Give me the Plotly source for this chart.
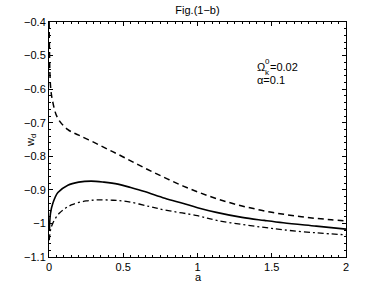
import plotly.graph_objects as go

# ---- data ----
a_dashed = [0.0008, 0.003, 0.006, 0.012, 0.024, 0.057, 0.125, 0.2, 0.3, 0.4, 0.5, 0.6, 0.7,
            0.8, 0.9, 1.0, 1.1, 1.2, 1.3, 1.4, 1.5, 1.6, 1.7, 1.8, 1.9, 2.0]
w_dashed = [-0.40, -0.48, -0.55, -0.60, -0.635, -0.685, -0.72, -0.737, -0.758, -0.780, -0.802,
            -0.825, -0.847, -0.868, -0.888, -0.906, -0.922, -0.936, -0.948, -0.958, -0.967,
            -0.974, -0.980, -0.985, -0.989, -0.993]

a_solid = [0.003, 0.01, 0.026, 0.06, 0.127, 0.2, 0.284, 0.37, 0.464, 0.55, 0.644, 0.78, 0.9,
           1.0, 1.127, 1.3, 1.45, 1.577, 1.8, 2.0]
w_solid = [-1.02, -0.97, -0.94, -0.908, -0.886, -0.877, -0.874, -0.877, -0.883, -0.893, -0.905,
           -0.925, -0.94, -0.953, -0.967, -0.982, -0.991, -0.998, -1.008, -1.017]

a_dashdot = [0.002, 0.01, 0.026, 0.071, 0.15, 0.25, 0.33, 0.43, 0.53, 0.68, 0.78, 1.0, 1.13,
             1.3, 1.45, 1.577, 1.8, 2.0]
w_dashdot = [-1.05, -1.02, -0.999, -0.969, -0.945, -0.933, -0.930, -0.931, -0.935, -0.95, -0.96,
             -0.977, -0.991, -1.003, -1.012, -1.019, -1.028, -1.034]

x_ticks = [0, 0.5, 1, 1.5, 2]
x_tick_labels = ["0", "0.5", "1", "1.5", "2"]
y_ticks = [-0.4, -0.5, -0.6, -0.7, -0.8, -0.9, -1.0, -1.1]
y_tick_labels = ["\u22120.4", "\u22120.5", "\u22120.6", "\u22120.7", "\u22120.8", "\u22120.9", "\u22121", "\u22121.1"]

FONT = "Liberation Sans, Arial, Helvetica, sans-serif"
L, R, T, B = 49, 346, 22, 257
W, H = 382, 287

def px_x(px):
    return (px - L) / (R - L)

def px_y(py):
    return 1 - (py - T) / (B - T)

fig = go.Figure()
fig.add_trace(go.Scatter(x=a_dashed, y=w_dashed, mode="lines", line_shape="spline",
                         line=dict(color="black", width=1.5, dash="6px,4px")))
fig.add_trace(go.Scatter(x=a_solid, y=w_solid, mode="lines", line_shape="spline",
                         line=dict(color="black", width=1.6)))
fig.add_trace(go.Scatter(x=a_dashdot, y=w_dashdot, mode="lines", line_shape="spline",
                         line=dict(color="black", width=1.3, dash="6px,3px,2px,3px")))

axis_common = dict(showline=True, linecolor="black", linewidth=1, mirror="ticks",
                   ticks="inside", ticklen=4, tickcolor="black", showgrid=False, zeroline=False,
                   automargin=False,
                   tickfont=dict(family=FONT, size=11, color="black"))

fig.update_xaxes(range=[0, 2], tickvals=x_ticks, ticktext=x_tick_labels,
                 minor=dict(ticks="inside", dtick=0.05, ticklen=2, tickcolor="black"),
                 **axis_common)
fig.update_yaxes(range=[-1.1, -0.4], tickvals=y_ticks, ticktext=y_tick_labels,
                 minor=dict(ticks="inside", dtick=0.02, ticklen=2, tickcolor="black"),
                 **axis_common)

ann_font = dict(family=FONT, size=11, color="black")
small_font = dict(family=FONT, size=8, color="black")
fig.update_layout(
    width=W, height=H,
    margin=dict(l=L, r=W - R, t=T, b=H - B, autoexpand=False),
    paper_bgcolor="white", plot_bgcolor="white",
    showlegend=False,
    title=dict(text="Fig.(1\u2212b)", x=(L + R) / 2 / W, xanchor="center",
               y=1 - 10 / H, yanchor="middle", font=dict(family=FONT, size=11, color="black")),
    annotations=[
        dict(text="a", x=px_x(198), y=px_y(277), xref="paper", yref="paper",
             xanchor="center", yanchor="middle", showarrow=False, font=ann_font),
        dict(text="w<sub>d</sub>", x=px_x(31), y=px_y(141), xref="paper", yref="paper",
             xanchor="center", yanchor="middle", showarrow=False, font=ann_font, textangle=-90),
        dict(text="\u03a9", x=px_x(255), y=px_y(67), xref="paper", yref="paper",
             xanchor="left", yanchor="middle", showarrow=False, font=ann_font),
        dict(text="0", x=px_x(263), y=px_y(61), xref="paper", yref="paper",
             xanchor="left", yanchor="middle", showarrow=False, font=small_font),
        dict(text="k", x=px_x(263), y=px_y(72), xref="paper", yref="paper",
             xanchor="left", yanchor="middle", showarrow=False, font=small_font),
        dict(text="=0.02", x=px_x(268), y=px_y(67), xref="paper", yref="paper",
             xanchor="left", yanchor="middle", showarrow=False, font=ann_font),
        dict(text="\u03b1=0.1", x=px_x(255), y=px_y(80), xref="paper", yref="paper",
             xanchor="left", yanchor="middle", showarrow=False, font=ann_font),
    ],
)

fig.write_html("out.html", config={"displayModeBar": False, "staticPlot": True},
               post_script="document.body.style.margin='0';document.body.style.padding='0';")
